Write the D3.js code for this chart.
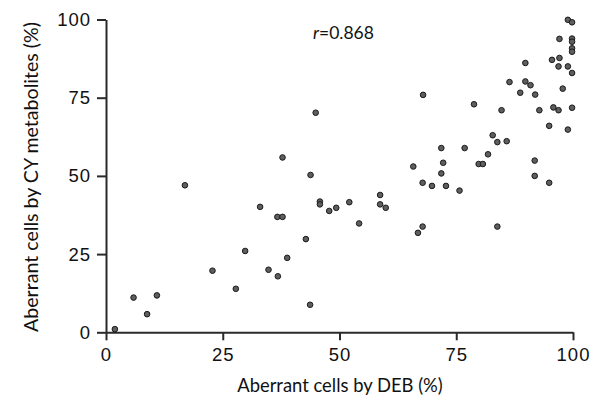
<!DOCTYPE html>
<html>
<head>
<meta charset="utf-8">
<script src="https://cdn.jsdelivr.net/npm/d3@7"></script>
<style>
  body { margin: 0; background: #fff; }
  .tick text { font-family: 'Liberation Sans', Arial, sans-serif; }
</style>
</head>
<body>
<svg id="chart" width="591" height="398"></svg>
<script>
// aberrant cells by DEB (%), x values
const debValues = [1.9, 5.9, 8.8, 10.9, 16.9, 22.8, 27.8, 29.8, 33.0, 34.8, 36.8, 36.7, 37.8, 37.8, 38.8,
  42.8, 43.8, 43.7, 44.9, 45.8, 45.8, 47.8, 49.3, 52.1, 54.2, 58.7, 58.7, 59.9,
  65.8, 66.8, 67.8, 67.8, 69.8, 71.8, 72.2, 71.8, 76.8, 72.8, 75.7, 79.8, 80.7,
  67.9, 78.8, 81.8, 82.8, 83.8, 85.8, 83.8, 84.7, 86.4, 88.7, 89.8, 90.9, 89.8,
  91.9, 91.8, 91.8, 92.8, 94.9, 94.9, 95.5, 95.8, 96.9, 96.9, 97.1, 97.1, 97.8,
  98.9, 98.9, 98.9, 99.8, 99.8, 99.8, 99.8, 99.8, 99.8, 99.8];
// aberrant cells by CY metabolites (%), y values
const cyValues = [1.0, 11.1, 5.8, 11.8, 47.0, 19.7, 13.9, 26.0, 40.1, 20.0, 17.9, 36.9, 36.9, 55.9, 23.8,
  29.8, 50.3, 8.8, 70.2, 41.8, 40.9, 38.8, 39.8, 41.6, 34.8, 43.9, 40.9, 39.8,
  53.0, 31.8, 33.8, 47.8, 46.8, 50.8, 54.2, 58.9, 58.9, 46.8, 45.3, 53.8, 53.8,
  75.9, 72.9, 56.9, 63.0, 60.8, 61.1, 33.8, 71.0, 80.0, 76.6, 80.2, 79.0, 86.1,
  76.0, 54.9, 50.0, 71.0, 66.0, 47.8, 87.1, 71.9, 71.0, 85.0, 87.7, 93.8, 77.9,
  85.0, 64.8, 99.9, 99.1, 93.9, 92.9, 90.8, 89.7, 82.9, 71.8];
const tickValues = [0, 25, 50, 75, 100];
const rLabel = '0.868';

const points = debValues.map((d, i) => ({ x: d, y: cyValues[i] }));

const svg = d3.select('#chart'),
  margin = { top: 19.5, right: 18, bottom: 65.7, left: 106 },
  width = +svg.attr('width') - margin.left - margin.right,
  height = +svg.attr('height') - margin.top - margin.bottom;

const x = d3.scaleLinear().domain([0, 100]).range([0, width]),
  y = d3.scaleLinear().domain([0, 100]).range([height, 0]);

const g = svg.append('g')
  .attr('transform', 'translate(' + margin.left + ',' + margin.top + ')');

const xAxis = g.append('g')
  .attr('transform', 'translate(0,' + height + ')')
  .call(d3.axisBottom(x).tickValues(tickValues).tickSize(8).tickPadding(8).tickSizeOuter(0));

const yAxis = g.append('g')
  .call(d3.axisLeft(y).tickValues(tickValues).tickSize(9).tickPadding(6).tickSizeOuter(0));

[xAxis, yAxis].forEach(a => {
  a.select('.domain').attr('stroke', '#2a2a2a').attr('stroke-width', 2);
  a.selectAll('.tick line').attr('stroke', '#2a2a2a').attr('stroke-width', 2);
  a.selectAll('.tick text')
    .attr('fill', '#111')
    .style('font-size', '18.5px')
    .style('letter-spacing', '1px');
});

g.selectAll('.dot')
  .data(points)
  .enter().append('circle')
    .attr('class', 'dot')
    .attr('cx', d => x(d.x))
    .attr('cy', d => y(d.y))
    .attr('r', 2.8)
    .attr('fill', '#5e5e5e')
    .attr('stroke', '#1a1a1a')
    .attr('stroke-width', 1);

// axis titles
svg.append('text')
  .attr('x', 340)
  .attr('y', 392)
  .attr('text-anchor', 'middle')
  .style('font-family', 'Lato, sans-serif')
  .style('font-size', '18.4px')
  .attr('fill', '#111')
  .text('Aberrant cells by DEB (%)');

svg.append('text')
  .attr('transform', 'translate(38,177) rotate(-90)')
  .attr('text-anchor', 'middle')
  .style('font-family', 'Lato, sans-serif')
  .style('font-size', '19.6px')
  .attr('fill', '#111')
  .text('Aberrant cells by CY metabolites (%)');

const rText = svg.append('text')
  .attr('x', 313)
  .attr('y', 39)
  .style('font-family', 'Lato, sans-serif')
  .style('font-size', '17.5px')
  .attr('fill', '#111');
rText.append('tspan').style('font-style', 'italic').text('r');
rText.append('tspan').text('=' + rLabel);
</script>
</body>
</html>
